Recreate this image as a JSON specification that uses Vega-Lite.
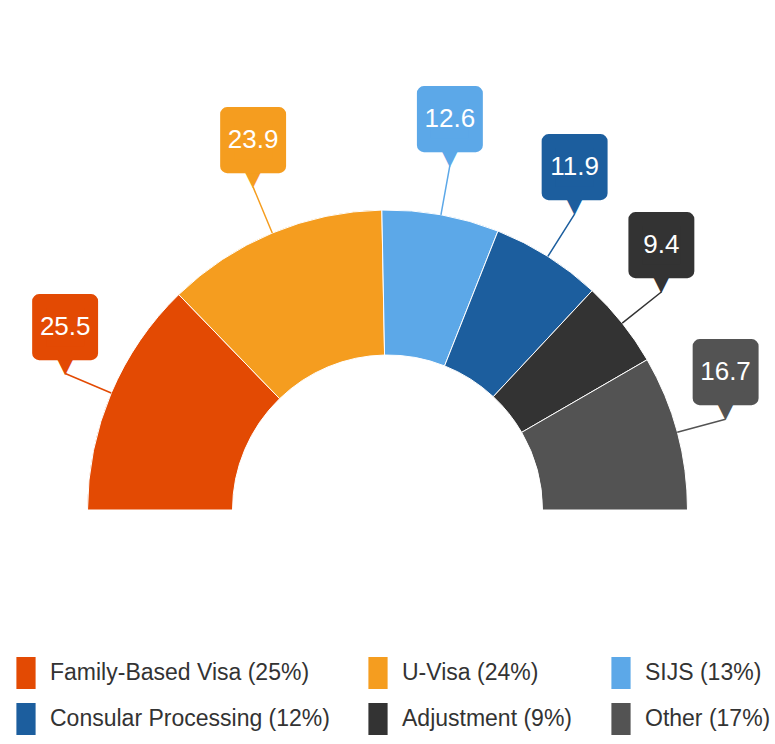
{
  "$schema": "https://vega.github.io/schema/vega-lite/v6.json",
  "width": 775,
  "height": 510,
  "autosize": {"type": "none"},
  "padding": {"left": 0, "right": 0, "top": 0, "bottom": 234},
  "background": "#ffffff",
  "config": {"view": {"stroke": null}},
  "data": {
    "values": [
      {"category": "Family-Based Visa (25%)", "value": 25.5, "order": 1},
      {"category": "U-Visa (24%)", "value": 23.9, "order": 2},
      {"category": "SIJS (13%)", "value": 12.6, "order": 3},
      {"category": "Consular Processing (12%)", "value": 11.9, "order": 4},
      {"category": "Adjustment (9%)", "value": 9.4, "order": 5},
      {"category": "Other (17%)", "value": 16.7, "order": 6}
    ]
  },
  "encoding": {
    "theta": {"field": "value", "type": "quantitative", "stack": true, "scale": {"range": [-1.5708, 1.5708]}},
    "order": {"field": "order", "type": "quantitative"}
  },
  "layer": [
    {
      "mark": {"type": "arc", "radius": 300, "radius2": 155, "y": "height", "stroke": "#ffffff", "strokeWidth": 1},
      "encoding": {
        "color": {
          "field": "category", "type": "nominal",
          "scale": {
            "domain": ["Family-Based Visa (25%)", "U-Visa (24%)", "SIJS (13%)", "Consular Processing (12%)", "Adjustment (9%)", "Other (17%)"],
            "range": ["#e34a03", "#f59d1f", "#5ca8e8", "#1c5e9e", "#333333", "#535353"]
          },
          "legend": {
            "title": null, "orient": "bottom", "direction": "horizontal", "columns": 3,
            "symbolType": "M-0.6,-1H0.6V1H-0.6Z", "symbolSize": 1024, "symbolStrokeWidth": 0,
            "labelFont": "Liberation Sans", "labelFontSize": 23, "labelColor": "#333333",
            "labelLimit": 500, "labelOffset": 8, "columnPadding": 32, "rowPadding": 14,
            "padding": 10, "offset": 137
          }
        }
      }
    },
    {
      "mark": {"type": "arc", "radius": 350, "radius2": 300, "y": "height", "padAngle": 1.0, "filled": false, "strokeWidth": 1.5},
      "encoding": {"color": {"field": "category", "type": "nominal", "legend": null}}
    },
    {
      "mark": {"type": "text", "radius": 350, "y": "height", "dy": -10, "text": "▼", "font": "DejaVu Sans", "fontSize": 26, "align": "center", "baseline": "middle"},
      "encoding": {"color": {"field": "category", "type": "nominal", "legend": null}}
    },
    {
      "mark": {"type": "text", "radius": 350, "y": "height", "dy": -49, "text": "■", "font": "DejaVu Sans", "fontSize": 68, "strokeWidth": 14, "strokeJoin": "round", "align": "center", "baseline": "middle"},
      "encoding": {
        "color": {"field": "category", "type": "nominal", "legend": null},
        "stroke": {
          "field": "category", "type": "nominal", "legend": null,
          "scale": {
            "domain": ["Family-Based Visa (25%)", "U-Visa (24%)", "SIJS (13%)", "Consular Processing (12%)", "Adjustment (9%)", "Other (17%)"],
            "range": ["#e34a03", "#f59d1f", "#5ca8e8", "#1c5e9e", "#333333", "#535353"]
          }
        }
      }
    },
    {
      "mark": {"type": "text", "radius": 350, "y": "height", "dy": -47, "font": "Liberation Sans", "fontSize": 26, "color": "#ffffff", "align": "center", "baseline": "middle"},
      "encoding": {"text": {"field": "value", "type": "quantitative", "format": ".1f"}}
    }
  ]
}
